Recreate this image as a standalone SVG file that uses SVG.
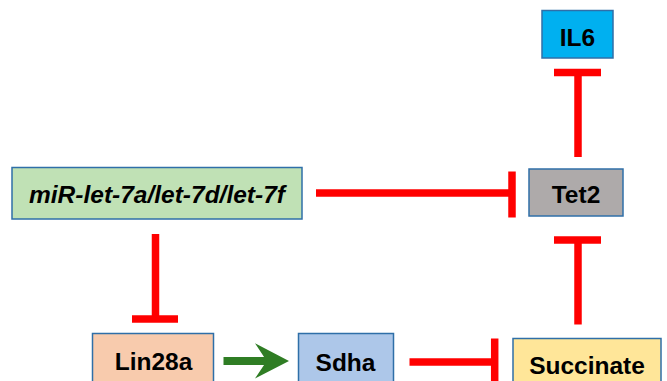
<svg xmlns="http://www.w3.org/2000/svg" width="667" height="381" viewBox="0 0 667 381">
<style>
.box{stroke:#2F6FA8;stroke-width:1.5}
.lbl{font-family:"Liberation Sans",Arial,sans-serif;font-weight:bold;font-size:24.5px;fill:#000;text-anchor:middle}
.inh{stroke:#FF0000;stroke-width:7.5;fill:none}
</style>
<rect width="667" height="381" fill="#FFFFFF"/>
<g id="connectors">
  <!-- miR inhibits Tet2 -->
  <line class="inh" x1="316" y1="193" x2="512" y2="193"/>
  <line class="inh" x1="512" y1="171.5" x2="512" y2="217.5"/>
  <!-- Tet2 inhibits IL6 -->
  <line class="inh" x1="578" y1="157" x2="578" y2="72.5"/>
  <line class="inh" x1="554" y1="72.5" x2="601" y2="72.5"/>
  <!-- Succinate inhibits Tet2 -->
  <line class="inh" x1="578" y1="324.5" x2="578" y2="240"/>
  <line class="inh" x1="554" y1="240" x2="601" y2="240"/>
  <!-- miR inhibits Lin28a -->
  <line class="inh" x1="155.5" y1="234" x2="155.5" y2="319"/>
  <line class="inh" x1="132" y1="319" x2="178" y2="319"/>
  <!-- Sdha inhibits Succinate -->
  <line class="inh" x1="409.5" y1="362" x2="494.7" y2="362"/>
  <line class="inh" x1="494.7" y1="338.5" x2="494.7" y2="384"/>
  <!-- Lin28a activates Sdha -->
  <line x1="223.5" y1="361" x2="268" y2="361" stroke="#2F7D24" stroke-width="8"/>
  <polygon points="255,343.3 289,361 255,378.5 266.7,361" fill="#2F7D24"/>
</g>
<g id="IL6">
  <rect class="box" x="542" y="10.5" width="71" height="47.5" fill="#00B0F0"/>
  <text class="lbl" x="577.5" y="45.5">IL6</text>
</g>
<g id="Tet2">
  <rect class="box" x="529" y="169" width="94" height="47" fill="#AEAAAA"/>
  <text class="lbl" x="576" y="202.5">Tet2</text>
</g>
<g id="miR">
  <rect class="box" x="12" y="167.5" width="290" height="51.5" fill="#C0E1B5"/>
  <text class="lbl" x="157" y="202.5" font-style="italic">miR-let-7a/let-7d/let-7f</text>
</g>
<g id="Lin28a">
  <rect class="box" x="92.5" y="333.5" width="121" height="49" fill="#F8CBAD"/>
  <text class="lbl" x="153.5" y="369.5">Lin28a</text>
</g>
<g id="Sdha">
  <rect class="box" x="298.5" y="333.5" width="95" height="49" fill="#ADC7E9"/>
  <text class="lbl" x="345.5" y="371">Sdha</text>
</g>
<g id="Succinate">
  <rect class="box" x="513" y="338.5" width="148" height="49" fill="#FFE699"/>
  <text class="lbl" x="587" y="374">Succinate</text>
</g>
</svg>
